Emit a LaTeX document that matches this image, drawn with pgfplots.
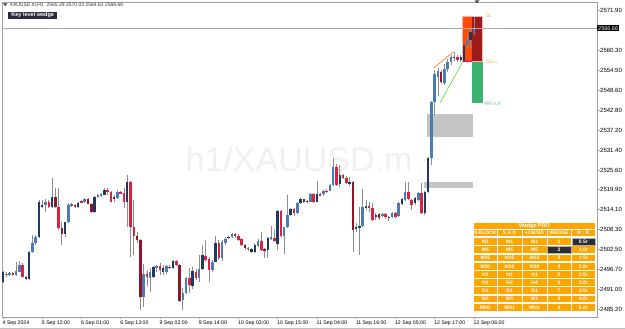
\documentclass[border=0pt]{standalone}
\usepackage{pgfplots}
\pgfplotsset{compat=1.18}
\usepackage{pgfplotstable}
\usepackage{fontspec}
\setmainfont{Liberation Sans}

\definecolor{navy}{HTML}{1E3A5F}
\definecolor{steel}{HTML}{4A7DB5}
\definecolor{maroon}{HTML}{8E1628}
\definecolor{crimson}{HTML}{D9223F}
\definecolor{wick}{HTML}{8C8C8C}
\definecolor{zone}{HTML}{C4C4C4}
\definecolor{slorange}{HTML}{FF4A0A}
\definecolor{sldark}{HTML}{9E1B1B}
\definecolor{tpgreen}{HTML}{3CB371}
\definecolor{tbl}{HTML}{FFA500}
\definecolor{tbldark}{HTML}{2E2E2E}
\definecolor{pline}{HTML}{A3ACB3}
\definecolor{keybox}{HTML}{2B2D3A}

\pgfplotstableread{
i o h l c s
0 2493.2 2496.3 2492.7 2496.1 1
1 2495.1 2495.9 2494.7 2495.5 0
2 2495.3 2496.0 2495.0 2495.7 0
3 2495.8 2496.0 2494.8 2495.1 0
4 2495.1 2499.0 2494.9 2496.3 0
5 2496.1 2499.2 2496.0 2498.0 0
6 2498.0 2498.5 2494.5 2494.7 0
7 2494.7 2494.9 2493.7 2494.0 1
8 2494.0 2502.1 2493.8 2501.9 1
9 2501.7 2506.7 2501.4 2504.3 0
10 2504.3 2506.7 2503.8 2506.3 0
11 2506.3 2516.9 2506.0 2516.4 1
12 2514.8 2516.9 2514.5 2515.4 1
13 2515.4 2517.2 2513.5 2516.2 0
14 2516.2 2516.9 2514.5 2515.0 0
15 2515.0 2523.2 2514.5 2517.8 1
16 2517.8 2520.3 2514.5 2514.8 1
17 2514.9 2520.5 2508.2 2508.7 0
18 2508.7 2510.6 2503.8 2506.9 1
19 2506.9 2510.6 2506.2 2510.4 1
20 2510.4 2515.9 2510.1 2515.4 0
21 2515.3 2516.0 2515.0 2515.6 0
22 2515.4 2515.7 2514.5 2514.8 0
23 2514.8 2516.3 2514.6 2516.0 1
24 2516.6 2516.8 2516.0 2516.2 0
25 2516.2 2517.5 2516.0 2517.2 0
26 2517.2 2517.4 2515.6 2515.8 1
27 2515.8 2516.0 2513.2 2513.5 1
28 2513.5 2518.0 2513.2 2517.8 1
29 2517.8 2518.6 2517.6 2518.3 0
30 2518.0 2518.8 2517.8 2518.5 0
31 2518.3 2520.5 2518.2 2519.9 1
32 2519.9 2520.5 2518.3 2519.1 0
33 2519.1 2519.5 2516.2 2516.4 0
34 2517.8 2518.3 2516.4 2517.2 1
35 2517.4 2519.8 2517.2 2519.3 0
36 2519.1 2519.5 2518.5 2518.8 0
37 2518.8 2520.3 2514.7 2516.2 0
38 2516.2 2524.1 2509.0 2522.2 1
39 2522.2 2522.4 2500.5 2509.2 0
40 2509.2 2517.0 2501.0 2506.5 0
41 2506.5 2507.5 2504.5 2505.3 1
42 2505.3 2505.5 2485.0 2488.9 1
43 2488.9 2498.2 2486.0 2495.3 0
44 2495.3 2496.5 2492.0 2494.6 0
45 2494.4 2497.1 2490.3 2495.9 0
46 2494.6 2497.9 2494.2 2497.5 1
47 2497.1 2498.2 2495.9 2497.8 0
48 2497.8 2498.5 2495.3 2496.6 0
49 2495.9 2498.0 2495.1 2497.2 1
50 2495.9 2498.2 2495.5 2497.8 0
51 2497.6 2498.0 2496.8 2497.1 0
52 2497.2 2499.5 2497.0 2499.2 1
53 2499.2 2499.4 2497.9 2498.2 0
54 2498.2 2498.4 2487.2 2487.6 1
55 2487.8 2491.3 2485.0 2489.8 0
56 2489.8 2494.7 2489.6 2494.2 0
57 2494.2 2497.1 2489.8 2492.2 0
58 2492.0 2497.5 2491.2 2496.3 1
59 2496.1 2497.0 2493.8 2494.2 0
60 2494.2 2500.9 2493.2 2496.9 0
61 2496.9 2503.8 2496.6 2500.9 1
62 2500.6 2505.3 2499.0 2499.5 0
63 2499.8 2500.5 2493.2 2496.6 0
64 2496.6 2499.5 2496.1 2499.0 0
65 2499.0 2506.5 2498.8 2504.3 1
66 2504.3 2505.3 2499.5 2500.0 0
67 2500.0 2505.3 2499.2 2504.8 0
68 2504.3 2506.3 2503.8 2505.6 0
69 2505.8 2506.6 2505.5 2506.3 1
70 2506.2 2507.3 2505.9 2506.9 0
71 2506.9 2507.3 2506.0 2506.4 0
72 2506.4 2507.0 2505.0 2505.3 0
73 2505.5 2505.8 2503.5 2503.8 0
74 2503.8 2504.0 2502.5 2502.9 1
75 2503.1 2503.3 2502.0 2502.6 0
76 2501.9 2502.9 2501.5 2502.6 1
77 2501.9 2504.3 2501.6 2503.8 1
78 2503.6 2505.5 2503.4 2505.1 0
79 2505.1 2507.7 2502.2 2502.4 0
80 2502.6 2502.9 2500.0 2502.2 1
81 2502.4 2506.1 2500.0 2505.8 1
82 2505.5 2509.4 2505.2 2506.1 0
83 2505.8 2508.2 2504.8 2505.1 0
84 2504.1 2514.0 2502.4 2513.8 1
85 2513.8 2514.0 2505.8 2506.4 0
86 2506.4 2509.2 2501.2 2509.0 0
87 2509.2 2518.3 2508.7 2512.5 0
88 2512.5 2514.6 2512.2 2514.2 1
89 2514.2 2514.5 2512.4 2513.0 0
90 2513.0 2516.4 2512.8 2516.1 0
91 2516.1 2517.4 2515.8 2517.1 1
92 2517.1 2517.3 2516.0 2516.4 1
93 2516.4 2516.9 2516.1 2516.7 1
94 2516.4 2518.9 2516.2 2518.6 0
95 2518.6 2518.8 2516.0 2516.4 0
96 2516.4 2522.5 2516.2 2518.6 1
97 2518.6 2518.9 2518.0 2518.3 0
98 2518.5 2519.9 2518.2 2519.6 0
99 2519.6 2520.0 2518.9 2519.2 0
100 2519.6 2521.5 2519.4 2521.2 0
101 2521.2 2529.0 2521.0 2526.6 0
102 2526.6 2527.3 2521.0 2521.2 0
103 2521.5 2527.0 2520.8 2524.1 1
104 2524.1 2524.5 2522.9 2523.2 0
105 2523.2 2524.0 2521.4 2521.7 0
106 2521.7 2523.5 2521.0 2522.2 1
107 2522.2 2522.4 2501.9 2508.2 1
108 2508.4 2510.2 2507.5 2509.2 1
109 2509.0 2514.9 2500.9 2509.4 1
110 2509.4 2520.0 2509.2 2514.8 0
111 2514.8 2516.9 2514.0 2515.2 1
112 2515.2 2516.4 2513.5 2514.8 0
113 2514.5 2515.9 2510.9 2511.1 0
114 2512.0 2513.0 2511.1 2512.5 1
115 2512.8 2513.2 2511.2 2511.6 1
116 2512.3 2513.2 2512.0 2512.8 0
117 2512.7 2513.0 2511.5 2511.9 0
118 2511.6 2512.4 2510.9 2512.1 1
119 2512.0 2513.4 2511.8 2513.0 0
120 2513.0 2513.3 2511.7 2512.0 0
121 2512.3 2516.2 2512.0 2515.9 0
122 2515.7 2517.4 2515.5 2517.1 1
123 2516.9 2522.2 2516.7 2519.3 0
124 2519.3 2522.2 2516.9 2517.1 0
125 2516.9 2517.1 2514.0 2515.4 0
126 2515.9 2517.8 2515.5 2517.4 1
127 2516.9 2519.2 2516.6 2518.8 0
128 2518.8 2521.7 2512.8 2513.0 0
129 2513.0 2519.6 2512.6 2519.3 1
130 2519.3 2529.3 2519.0 2529.0 1
131 2529.0 2545.6 2527.0 2545.4 0
132 2545.4 2554.6 2541.5 2553.3 0
133 2552.5 2555.3 2547.0 2554.4 0
134 2554.0 2554.6 2550.5 2551.2 1
135 2550.9 2556.3 2550.2 2555.0 0
136 2555.0 2557.8 2554.0 2556.8 0
137 2556.8 2559.0 2556.0 2558.3 0
138 2558.0 2559.8 2557.2 2558.5 1
139 2558.3 2558.8 2557.0 2557.5 0
140 2557.6 2558.8 2557.0 2558.4 1
141 2557.0 2562.0 2556.8 2561.8 1
142 2561.8 2564.7 2561.0 2563.3 0
143 2563.3 2566.7 2560.9 2565.7 1
144 2565.29 2570.03 2564.61 2566.66 0
}\candles

\pgfplotsset{
  body/.style={draw=none, mark=none, forget plot,
    error bars/.cd, y dir=both, y explicit, error mark=none,
    error bar style={line width=2.5pt, draw=#1, solid}},
}
\tikzset{cell/.style={text=white, font=\bfseries\fontsize{5}{5.5}\selectfont, inner sep=0pt}}

\begin{document}
\begin{tikzpicture}
\path[use as bounding box] (0,0) rectangle (625pt,329pt);
\begin{scope}[shift={(0pt,329pt)}, x=1pt, y=-1pt]
\node[text=black!6, font=\fontsize{34}{36}\selectfont, anchor=base, inner sep=0pt] at (299,171.7) {h1/XAUUSD.m};
\end{scope}
\begin{axis}[
  at={(2pt,12pt)}, anchor=south west, scale only axis,
  width=595pt, height=315pt,
  xmin=-0.3, xmax=181.66, ymin=2482.97, ymax=2574.3,
  clip=false,
  axis line style={draw=gray!75, line width=0.6pt},
  xtick={0,12,...,144},
  xticklabels={4 Sep 2024,5 Sep 12:00,6 Sep 01:00,6 Sep 13:00,9 Sep 02:00,9 Sep 14:00,10 Sep 03:00,10 Sep 15:00,11 Sep 04:00,11 Sep 16:00,12 Sep 05:00,12 Sep 17:00,13 Sep 06:00},
  ytick={2485.2,2491.0,2496.7,2502.5,2508.3,2514.1,2519.9,2525.6,2531.4,2537.2,2542.8,2548.6,2554.5,2560.3,2571.9},
  yticklabels={2485.20,2491.00,2496.70,2502.50,2508.30,2514.10,2519.90,2525.60,2531.40,2537.20,2542.80,2548.60,2554.50,2560.30,2571.90},
  xtick pos=bottom, ytick pos=right, yticklabel pos=right,
  tick align=outside, major tick length=2.5pt,
  tick style={draw=gray!75, line width=0.5pt},
  xticklabel style={font=\fontsize{5.2}{6}\selectfont, anchor=north west, inner sep=0pt, xshift=-0.5pt, yshift=-1.5pt},
  yticklabel style={font=\fontsize{6}{7}\selectfont, anchor=west, inner sep=0pt, xshift=0.5pt},
]
% zones
\fill[zone] (axis cs:129.7,2535.3) rectangle (axis cs:143.6,2541.8);
\fill[zone] (axis cs:128.7,2520.3) rectangle (axis cs:143.6,2522.2);
% SL / TP boxes
\fill[slorange] (axis cs:140.6,2557.0) rectangle (axis cs:143.4,2570.3);
\fill[sldark] (axis cs:143.4,2557.0) rectangle (axis cs:146.7,2570.3);
\draw[red!30, line width=0.5pt] (axis cs:140.6,2557.0) rectangle (axis cs:146.7,2570.3);
\fill[tpgreen] (axis cs:143.4,2544.9) rectangle (axis cs:146.7,2557.0);
% wicks
\addplot[draw=none, mark=none, forget plot, error bars/.cd, y dir=both, y explicit, error mark=none,
  error bar style={line width=0.7pt, draw=wick, solid}]
  table[x=i, y expr={(\thisrow{h}+\thisrow{l})/2}, y error expr={(\thisrow{h}-\thisrow{l})/2}] {\candles};
% bodies
\addplot[body=steel] table[x expr={(\thisrow{c}>=\thisrow{o} && \thisrow{s}==0) ? \thisrow{i} : nan},
  y expr={(\thisrow{o}+\thisrow{c})/2}, y error expr={max(abs(\thisrow{c}-\thisrow{o})/2,0.17)}] {\candles};
\addplot[body=navy] table[x expr={(\thisrow{c}>=\thisrow{o} && \thisrow{s}==1) ? \thisrow{i} : nan},
  y expr={(\thisrow{o}+\thisrow{c})/2}, y error expr={max(abs(\thisrow{c}-\thisrow{o})/2,0.17)}] {\candles};
\addplot[body=crimson] table[x expr={(\thisrow{c}<\thisrow{o} && \thisrow{s}==0) ? \thisrow{i} : nan},
  y expr={(\thisrow{o}+\thisrow{c})/2}, y error expr={max(abs(\thisrow{c}-\thisrow{o})/2,0.17)}] {\candles};
\addplot[body=maroon] table[x expr={(\thisrow{c}<\thisrow{o} && \thisrow{s}==1) ? \thisrow{i} : nan},
  y expr={(\thisrow{o}+\thisrow{c})/2}, y error expr={max(abs(\thisrow{c}-\thisrow{o})/2,0.17)}] {\candles};
% wedge lines
\addplot[forget plot, mark=none, draw={rgb,255:red,255;green,120;blue,40}, line width=0.7pt] coordinates {(131.7,2555.1) (137.8,2559.9)};
\addplot[forget plot, mark=none, draw={rgb,255:red,100;green,220;blue,70}, line width=0.7pt] coordinates {(133.7,2545.1) (140.6,2557.0)};
\addplot[forget plot, mark=none, draw=magenta, line width=0.9pt] coordinates {(140.6,2557.0) (143.4,2557.0)};
% labels
\node[anchor=west, inner sep=0pt, font=\fontsize{5}{6}\selectfont, text={rgb,255:red,240;green,170;blue,90}] at (axis cs:147.6,2570.3) {SL};
\node[anchor=west, inner sep=0pt, font=\fontsize{5}{6}\selectfont, text={rgb,255:red,232;green,178;blue,90}] at (axis cs:147.6,2557.0) {SELL};
\node[anchor=west, inner sep=0pt, font=\fontsize{5}{6}\selectfont, text={rgb,255:red,100;green,194;blue,138}] at (axis cs:147.3,2544.9) {RR 0.9};
% current price
\addplot[forget plot, mark=none, draw=pline, line width=0.6pt] coordinates {(-0.3,2566.66) (181.66,2566.66)};
\node[fill=black, text=white, font=\fontsize{5.5}{6}\selectfont, inner xsep=1pt, inner ysep=1.2pt, anchor=west] at (axis cs:181.66,2566.66) {2566.66};
\end{axis}
\begin{scope}[shift={(0pt,329pt)}, x=1pt, y=-1pt]
% header
\fill[black!75] (3,3.3) -- (7.4,3.3) -- (5.2,6.3) -- cycle;
\node[anchor=west, inner sep=0pt, font=\fontsize{5}{6}\selectfont, text=black!80] at (9.5,5) {XAUUSD.m,H1\ \ 2565.29 2570.03 2564.61 2566.66};
\node[fill=keybox, text=white, font=\bfseries\fontsize{5.5}{6}\selectfont, inner sep=0pt, minimum height=7.3pt, minimum width=49pt, anchor=north west] at (8,11.7) {Key level wedge};
% chart shift marker
\fill[black!70] (474.5,0.5) -- (479.5,0.5) -- (477,3.5) -- cycle;
% bottom border
\draw[gray!50, line width=0.8pt] (0,328.4) -- (625,328.4);
% table
\fill[tbl] (474,222.6) rectangle (595,228.8);
\node[cell, font=\bfseries\fontsize{5.4}{6}\selectfont] at (534.5,225.8) {Wedge PRO};
\fill[tbl] (474,229.6) rectangle (595,236.2);
\foreach \xs in {497.1,522.1,547.1,571.2} {\draw[white, line width=0.7pt] (\xs,229.6) -- (\xs,236.2);}
\node[cell] at (485.4,233) {0-BLOCK};
\node[cell] at (509.6,233) {S \& D};
\node[cell] at (534.6,233) {+OB/SD};
\node[cell] at (559.1,233) {WEDGE};
\node[cell] at (583.3,233) {R : R};
\foreach \n/\w/\r [count=\k from 0] in {M1/1/0.5r,M5/2/1.0r,M15/3/1.5r,M30/4/2.0r,H1/5/2.5r,H4/6/3.0r,D1/7/3.5r,W1/8/4.0r,MN1/9/5.0r}{
  \pgfmathsetmacro{\yt}{238.3+8.2*\k}
  \pgfmathsetmacro{\yb}{\yt+6.8}
  \pgfmathsetmacro{\yc}{\yt+3.45}
  \fill[tbl] (474,\yt) rectangle (595,\yb);
  \foreach \xs in {497.1,522.1,547.1,571.2} {\draw[white, line width=0.7pt] (\xs,\yt) -- (\xs,\yb);}
  \ifnum\k=0 \fill[tbldark, draw=gray!60, line width=0.4pt] (571.7,\yt) rectangle (595,\yb); \fi
  \ifnum\k=1 \fill[tbldark, draw=gray!60, line width=0.4pt] (547.5,\yt) rectangle (570.8,\yb); \fi
  \node[cell] at (485.4,\yc) {\n};
  \node[cell] at (509.6,\yc) {\n};
  \node[cell] at (534.6,\yc) {\n};
  \node[cell] at (559.1,\yc) {\w};
  \node[cell] at (583.3,\yc) {\r};
}
\end{scope}
\end{tikzpicture}
\end{document}
